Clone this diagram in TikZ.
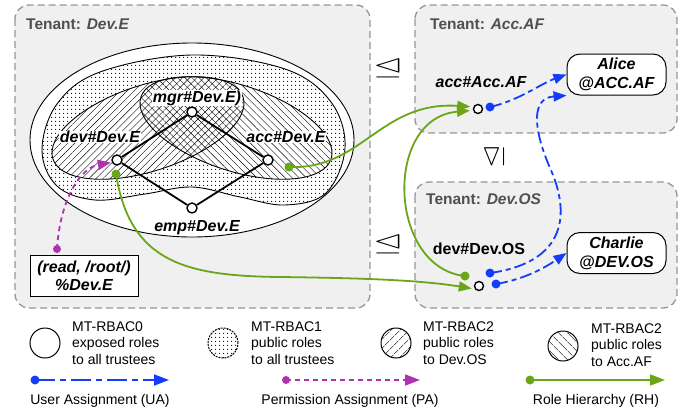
\documentclass[tikz,border=0pt]{standalone}
\usepackage{fontspec}
\setmainfont{Liberation Sans}
\usepackage{amssymb}
\usetikzlibrary{arrows.meta,patterns.meta}
\definecolor{uablue}{RGB}{20,60,250}
\definecolor{pamag}{RGB}{176,48,176}
\definecolor{rhgreen}{RGB}{106,166,22}
\definecolor{boxfill}{RGB}{240,240,240}
\definecolor{boxgray}{RGB}{150,150,150}
\definecolor{tgray}{RGB}{80,80,80}
\begin{document}
\begin{tikzpicture}[x=1pt,y=-1pt,
  tenant/.style={draw=boxgray, fill=boxfill, line width=1.3pt, dash pattern=on 7pt off 4pt, rounded corners=14pt},
  tlabel/.style={anchor=west, inner sep=0pt, text=tgray, font=\fontsize{15.5}{18}\selectfont\bfseries},
  role/.style={circle, draw, fill=white, line width=1.4pt, minimum size=10pt, inner sep=0pt},
  rlabel/.style={inner sep=0.6pt, font=\fontsize{16}{19}\selectfont\bfseries\itshape},
  userbox/.style={draw, fill=white, line width=1pt, rounded corners=13pt, minimum width=99pt, minimum height=41pt, align=center, inner sep=0pt, font=\fontsize{16}{19}\selectfont\bfseries\itshape},
  permbox/.style={draw, fill=white, line width=1pt, minimum width=108pt, minimum height=41pt, align=center, inner sep=0pt, font=\fontsize{16}{18}\selectfont\bfseries\itshape},
  gdot/.style={circle, fill=rhgreen, minimum size=9pt, inner sep=0pt},
  bdot/.style={circle, fill=uablue, minimum size=9pt, inner sep=0pt},
  mdot/.style={circle, fill=pamag, minimum size=8pt, inner sep=0pt},
  arrtip/.style={-{Triangle[length=13pt,width=10pt]}},
  bigarr/.style={-{Triangle[length=15pt,width=11pt]}},
  rh/.style={draw=rhgreen, line width=1.8pt},
  ua/.style={draw=uablue, line width=1.8pt, dash pattern=on 12pt off 4pt on 5pt off 4pt},
  pa/.style={draw=pamag, line width=1.8pt, dash pattern=on 5pt off 4pt},
  latedge/.style={line width=1.8pt},
  outl/.style={line width=0.9pt},
  legtxt/.style={anchor=west, align=left, inner sep=0pt, font=\fontsize{14}{16.5}\selectfont},
  legcap/.style={inner sep=0pt, font=\fontsize{14}{16.5}\selectfont},
  legring/.style={circle, draw, line width=1pt, minimum size=30pt, inner sep=0pt},
  relsym/.style={inner sep=0pt}
]
\useasboundingbox (0,0) rectangle (691,416);

% tenant boxes
\draw[tenant] (15,5) rectangle (370,308);
\draw[tenant] (415,5) rectangle (677,133);
\draw[tenant] (415,182) rectangle (677,308);
\node[tlabel] (tE) at (26,24) {Tenant: \textit{Dev.E}};
\node[tlabel] (tA) at (430,24) {Tenant: \textit{Acc.AF}};
\node[tlabel] (tO) at (426,199) {Tenant: \textit{Dev.OS}};

% nested regions
\draw[outl, fill=white] (192,140) ellipse [x radius=162, y radius=97];
\def\kidney{plot[smooth cycle, tension=0.6] coordinates {(42,150) (57,104) (100,72) (192,55) (285,69) (331,102) (345,148) (326,193) (285,205) (240,197) (192,187) (145,194) (95,200) (57,186)}}
\fill[white] \kidney;
\fill[pattern={Dots[distance=4pt,radius=0.7pt]}] \kidney;
\draw[outl] \kidney;
\fill[white, rotate around={18:(148,128)}] (148,128) ellipse [x radius=100, y radius=43];
\fill[white, rotate around={-18:(236,128)}] (236,128) ellipse [x radius=100, y radius=43];
\fill[pattern={Lines[angle=45,distance=5pt,line width=0.4pt]}, rotate around={18:(148,128)}] (148,128) ellipse [x radius=100, y radius=43];
\fill[pattern={Lines[angle=-45,distance=5pt,line width=0.4pt]}, rotate around={-18:(236,128)}] (236,128) ellipse [x radius=100, y radius=43];
\draw[outl, rotate around={18:(148,128)}] (148,128) ellipse [x radius=100, y radius=43];
\draw[outl, rotate around={-18:(236,128)}] (236,128) ellipse [x radius=100, y radius=43];

% role lattice of Dev.E
\node[role] (mgr) at (192,112) {};
\node[role] (dev) at (117,160) {};
\node[role] (acc) at (268,160) {};
\node[role] (emp) at (192,208) {};
\draw[latedge] (dev) -- (mgr) -- (acc) -- (emp) -- (dev);
\node[rlabel, fill=white] (lmgr) at (197,98) {mgr\#Dev.E)};
\node[rlabel, fill=white] (ldev) at (100,137) {dev\#Dev.E};
\node[rlabel, fill=white] (lacc) at (286,137) {acc\#Dev.E};
\node[rlabel] (lemp) at (197,228) {emp\#Dev.E};

% permission
\node[permbox] (perm) at (84,275.5) {(read, /root/)\\\%Dev.E};
\node[mdot] (pd) at (57,249) {};
\draw[pa, arrtip, shorten >=1pt] (pd.center) .. controls (60,200) and (80,168) .. (dev.205);

% Acc.AF
\node[role, minimum size=9pt] (aaf) at (478,109) {};
\node[rlabel] (laaf) at (481,82) {acc\#Acc.AF};
\node[userbox] (alice) at (616.5,74.5) {Alice\\@ACC.AF};
\node[bdot] (b1) at (490,107) {};

% Dev.OS
\node[role, minimum size=9pt] (dos) at (479,286) {};
\node[rlabel, font=\fontsize{16}{19}\selectfont\bfseries] (ldos) at (479,249) {dev\#Dev.OS};
\node[userbox] (charlie) at (616.5,253) {Charlie\\@DEV.OS};
\node[bdot] (b2) at (490,273) {};
\node[bdot] (b3) at (496,284) {};
\node[gdot] (g2) at (465,276) {};

% green dots in Dev.E
\node[gdot] (g1) at (289,167) {};
\node[gdot] (g3) at (116,174) {};

% role hierarchy
\draw[rh, arrtip, shorten >=3pt] (g1.center) .. controls (362,170) and (380,101) .. (aaf.155);
\draw[rh, arrtip, shorten >=3pt] (g2.center) .. controls (388,268) and (383,118) .. (aaf.195);
\draw[rh, arrtip, shorten >=3pt] (g3.center) .. controls (130,262) and (185,276) .. (280,277) .. controls (360,278) and (420,280) .. (dos.215);

% user assignment
\draw[ua, arrtip] (b1.center) .. controls (520,100) and (540,84) .. (alice.west);
\draw[ua, arrtip] (b2.center) .. controls (568,262) and (570,212) .. (550,168) .. controls (532,126) and (532,98) .. (alice.south west);
\draw[ua, arrtip] (b3.center) .. controls (520,280) and (540,271) .. (charlie.west);

% relation symbols
\node[relsym] (r1) at (388,68) {\scalebox{1.9}[1.25]{\fontsize{20}{20}\selectfont$\trianglelefteq$}};
\node[relsym] (r2) at (388,244) {\scalebox{1.9}[1.25]{\fontsize{20}{20}\selectfont$\trianglelefteq$}};
\node[relsym] (r3) at (494,157) {\rotatebox{90}{\scalebox{1.5}[1.3]{\fontsize{20}{20}\selectfont$\trianglelefteq$}}};

% legend
\node[legring] (k0) at (45,343) {};
\node[legtxt] (t0) at (72,343) {MT-RBAC0\\exposed roles\\to all trustees};
\node[legring, pattern={Dots[distance=4pt,radius=0.7pt]}, dash pattern=on 2pt off 1pt] (k1) at (223,343) {};
\node[legtxt] (t1) at (251,343) {MT-RBAC1\\public roles\\to all trustees};
\node[legring, pattern={Lines[angle=45,distance=6.5pt,line width=0.5pt]}] (k2) at (396,343) {};
\node[legtxt] (t2) at (423,343) {MT-RBAC2\\public roles\\to Dev.OS};
\node[legring, pattern={Lines[angle=-45,distance=6.5pt,line width=0.5pt]}] (k3) at (563,346) {};
\node[legtxt] (t3) at (591,345) {MT-RBAC2\\public roles\\to Acc.AF};

\node[bdot] (ua0) at (35,380) {};
\coordinate (ua1) at (169,380);
\draw[ua, bigarr, dash pattern=on 20pt off 5pt on 6pt off 5pt] (ua0.center) -- (ua1);
\node[legcap] (uac) at (100,401) {User Assignment (UA)};
\node[mdot] (pa0) at (286,380) {};
\coordinate (pa1) at (420,380);
\draw[pa, bigarr] (pa0.center) -- (pa1);
\node[legcap] (pac) at (350,401) {Permission Assignment (PA)};
\node[gdot] (rh0) at (530,380) {};
\coordinate (rh1) at (665,380);
\draw[rh, bigarr] (rh0.center) -- (rh1);
\node[legcap] (rhc) at (596,401) {Role Hierarchy (RH)};
\end{tikzpicture}
\end{document}
